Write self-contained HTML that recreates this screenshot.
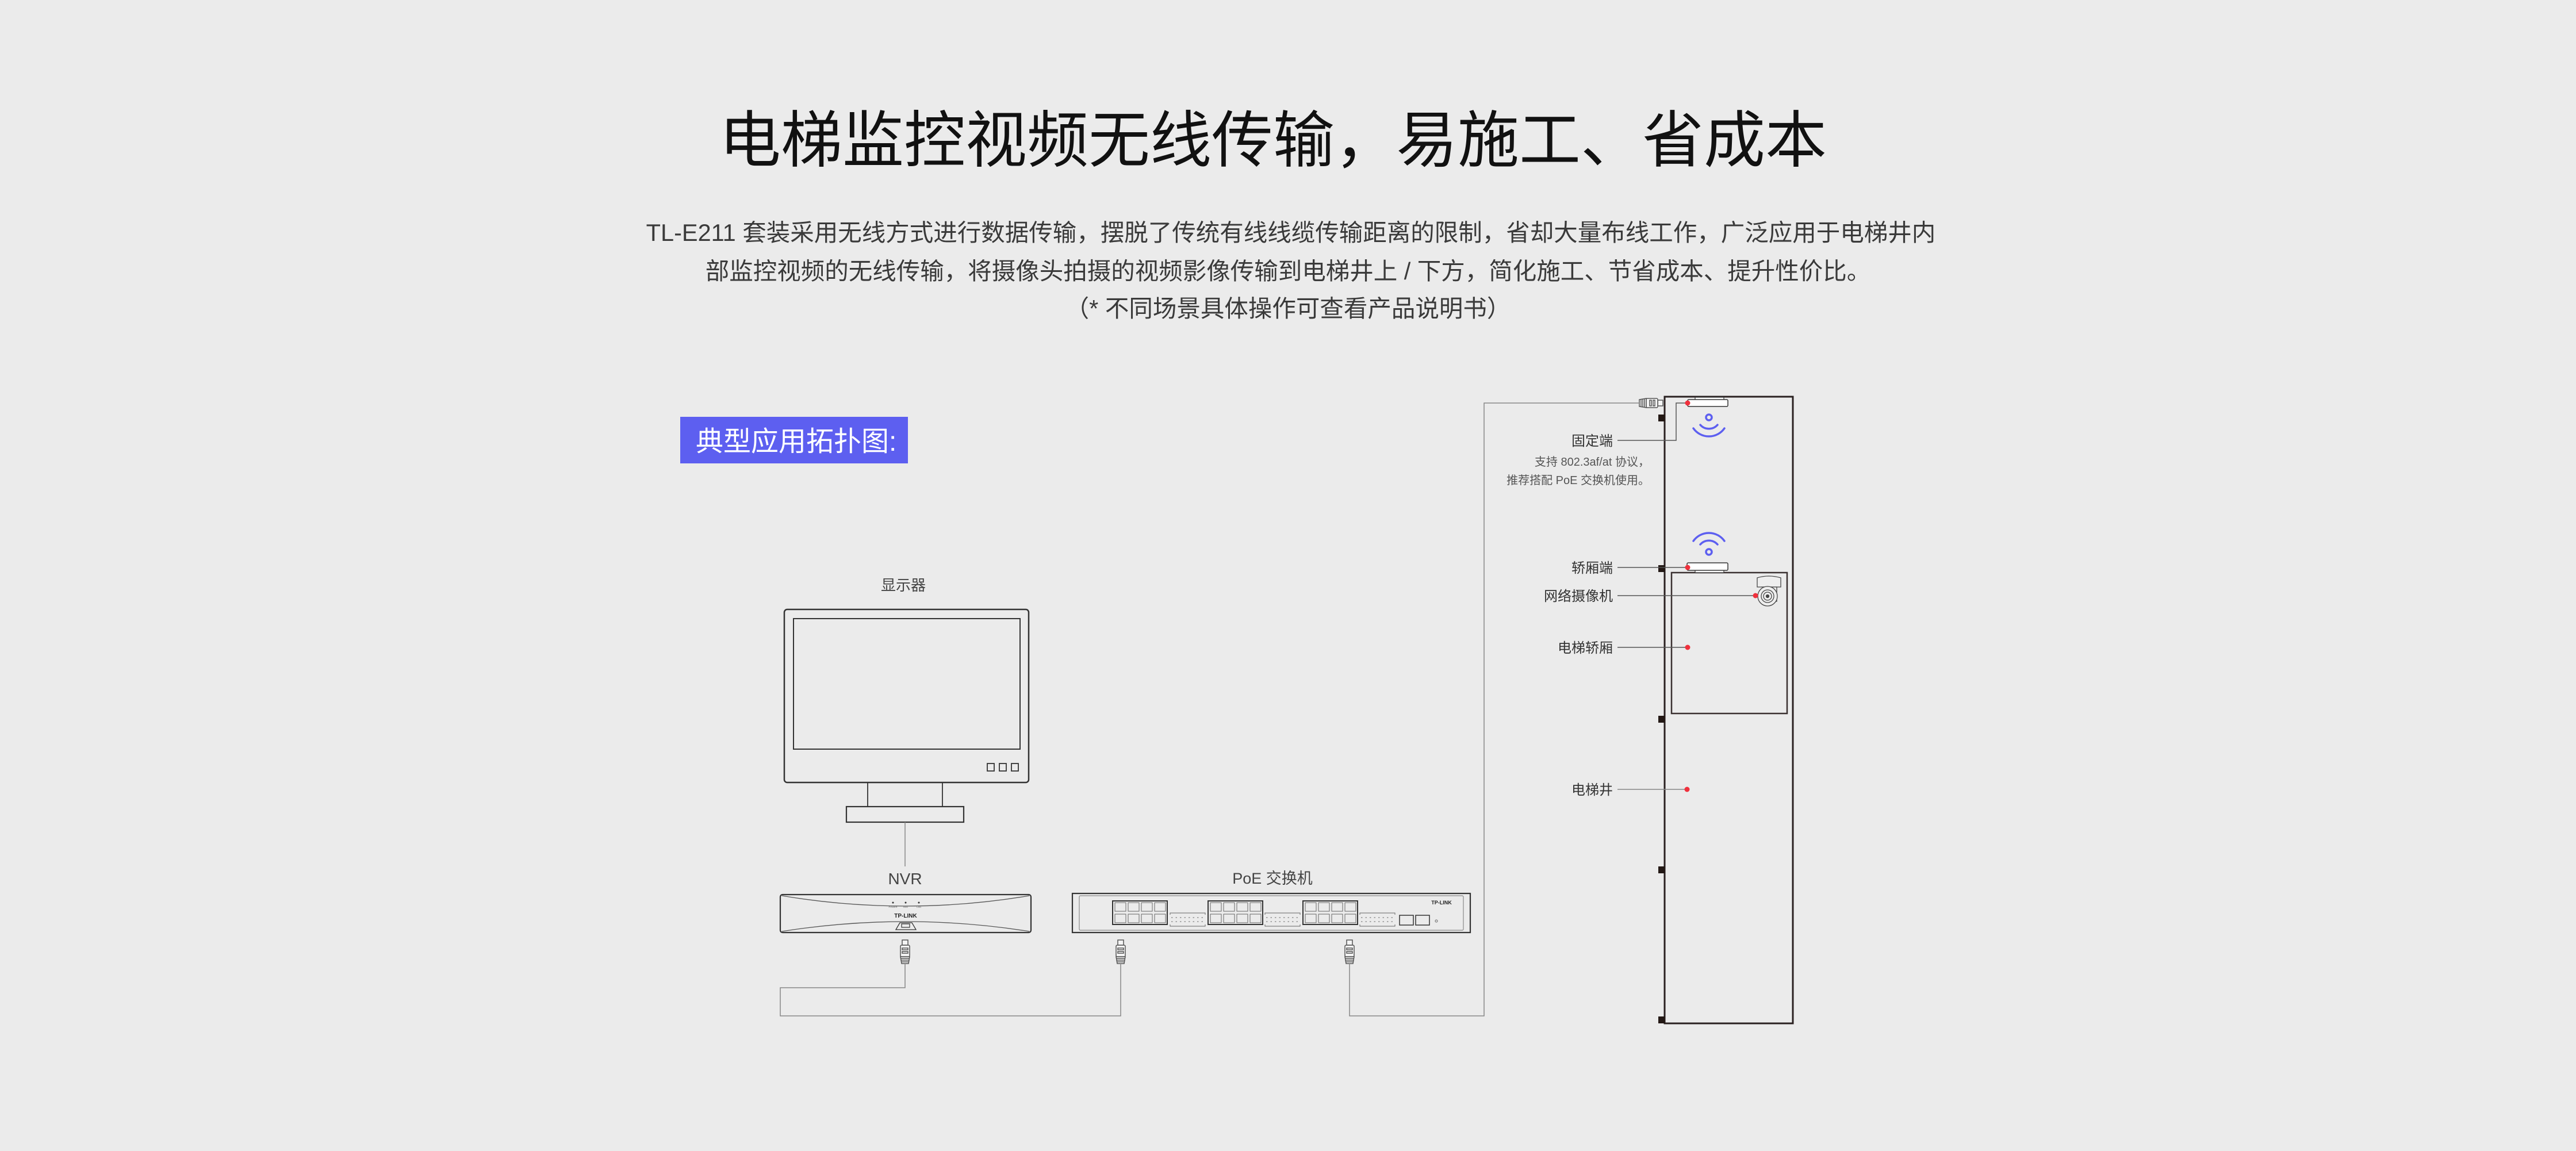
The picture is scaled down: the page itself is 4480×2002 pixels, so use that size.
<!DOCTYPE html>
<html><head><meta charset="utf-8"><style>
html,body{margin:0;padding:0;background:#ebebeb;}
svg{display:block;}
text{font-family:"Liberation Sans","Noto Sans CJK SC",sans-serif;}
</style></head><body>
<svg width="4480" height="2002" viewBox="0 0 4480 2002" xmlns="http://www.w3.org/2000/svg">
<defs>
<g id="plug" fill="#f4f4f4" stroke="#555" stroke-width="1.5">
<rect x="-5" y="0" width="10" height="9"/>
<rect x="-8" y="9" width="16" height="20" rx="2"/>
<rect x="-5" y="14" width="10" height="3" fill="none"/>
<rect x="-5" y="20" width="10" height="3" fill="none"/>
<path d="M-8 29 L-6 41 L6 41 L8 29 Z"/>
<path d="M-7.5 32 H7.5 M-7 35 H7 M-6.5 38 H6.5" fill="none"/>
</g>
<g id="ports">
<rect x="0" y="0" width="95" height="41" fill="none" stroke="#333" stroke-width="2"/>
<g fill="none" stroke="#666" stroke-width="1">
<rect x="4" y="3" width="19" height="15"/><rect x="27" y="3" width="19" height="15"/><rect x="50" y="3" width="19" height="15"/><rect x="73" y="3" width="19" height="15"/>
<rect x="4" y="23" width="19" height="15"/><rect x="27" y="23" width="19" height="15"/><rect x="50" y="23" width="19" height="15"/><rect x="73" y="23" width="19" height="15"/>
</g>
</g>
<g id="dots" fill="none" stroke="#666" stroke-width="1">
<path d="M0 3 V0 H61 V3 M0 20 V23 H61 V20"/>
<g stroke-dasharray="2.5 5"><line x1="2" y1="8" x2="61" y2="8"/><line x1="2" y1="15" x2="61" y2="15"/></g>
</g>
</defs>

<!-- Title -->
<text x="2214" y="281" font-size="107" fill="#111" text-anchor="middle">电梯监控视频无线传输，易施工、省成本</text>
<g font-size="41.5" fill="#3a3a3a" text-anchor="middle">
<text x="2245" y="419">TL-E211 套装采用无线方式进行数据传输，摆脱了传统有线线缆传输距离的限制，省却大量布线工作，广泛应用于电梯井内</text>
<text x="2240" y="486">部监控视频的无线传输，将摄像头拍摄的视频影像传输到电梯井上 / 下方，简化施工、节省成本、提升性价比。</text>
<text x="2240" y="551">（* 不同场景具体操作可查看产品说明书）</text>
</g>

<!-- Badge -->
<rect x="1183" y="725" width="396" height="81" fill="#5d5ff0"/>
<text x="1210" y="784" font-size="48" fill="#fff">典型应用拓扑图:</text>

<!-- Monitor -->
<text x="1571" y="1027" font-size="26" fill="#444" text-anchor="middle">显示器</text>
<rect x="1364" y="1060" width="425" height="301" rx="5" fill="none" stroke="#333" stroke-width="2.5"/>
<rect x="1380" y="1076" width="394" height="227" fill="none" stroke="#333" stroke-width="2"/>
<g fill="none" stroke="#333" stroke-width="1.8">
<rect x="1717" y="1328" width="12" height="13"/><rect x="1738" y="1328" width="12" height="13"/><rect x="1759" y="1328" width="12" height="13"/>
<line x1="1509" y1="1361" x2="1509" y2="1403"/><line x1="1639" y1="1361" x2="1639" y2="1403"/>
<rect x="1472" y="1403" width="204" height="27" stroke-width="2.2"/>
</g>
<line x1="1574" y1="1430" x2="1574" y2="1507" stroke="#888" stroke-width="1.5"/>

<!-- NVR -->
<text x="1574" y="1538" font-size="28" fill="#444" text-anchor="middle">NVR</text>
<rect x="1357" y="1556" width="436" height="66" rx="4" fill="none" stroke="#333" stroke-width="2.2"/>
<path d="M1360 1558 Q1575 1594 1790 1558 M1360 1620 Q1575 1586 1790 1620" fill="none" stroke="#555" stroke-width="1.3"/>
<g fill="#333"><circle cx="1553" cy="1570" r="1.5"/><circle cx="1575" cy="1570" r="1.5"/><circle cx="1598" cy="1570" r="1.5"/></g>
<g font-size="4" fill="#666" text-anchor="middle"><text x="1553" y="1579">POWER</text><text x="1575" y="1579">HDD</text><text x="1598" y="1579">LAN</text></g>
<text x="1575" y="1596" font-size="10" font-weight="bold" fill="#222" text-anchor="middle">TP-LINK</text>
<path d="M1558 1617 L1565 1605 L1586 1605 L1593 1617 Z" fill="none" stroke="#333" stroke-width="1.3"/>
<rect x="1568" y="1607" width="14" height="6" fill="none" stroke="#333" stroke-width="1.2"/>

<!-- Switch -->
<text x="2213" y="1537" font-size="27" fill="#444" text-anchor="middle">PoE 交换机</text>
<rect x="1865" y="1554" width="692" height="68" fill="none" stroke="#333" stroke-width="2.2"/>
<rect x="1877" y="1558" width="668" height="60" rx="2" fill="none" stroke="#888" stroke-width="1.2"/>
<use href="#ports" x="1935" y="1567"/><use href="#ports" x="2101" y="1567"/><use href="#ports" x="2266" y="1567"/>
<use href="#dots" x="2035" y="1588"/><use href="#dots" x="2200" y="1588"/><use href="#dots" x="2365" y="1588"/>
<rect x="2434" y="1592" width="24" height="17" fill="none" stroke="#333" stroke-width="1.5"/>
<rect x="2462" y="1592" width="24" height="17" fill="none" stroke="#333" stroke-width="1.5"/>
<circle cx="2498" cy="1602" r="2" fill="none" stroke="#666"/>
<text x="2507" y="1573" font-size="9" font-weight="bold" fill="#222" text-anchor="middle">TP-LINK</text>

<!-- Plugs -->
<use href="#plug" transform="translate(1574,1635)"/>
<use href="#plug" transform="translate(1949,1635)"/>
<use href="#plug" transform="translate(2347,1635)"/>
<use href="#plug" transform="translate(2892,701) rotate(90)"/>

<!-- Cables -->
<g fill="none" stroke="#888" stroke-width="1.5">
<path d="M1574 1676 V1718 H1357 V1767 H1949 V1676"/>
<path d="M2347 1676 V1767 H2581 V701 H2851"/>
</g>

<!-- Shaft -->
<rect x="2895" y="690" width="223" height="1090" fill="none" stroke="#2a2020" stroke-width="3"/>
<g fill="#231815">
<rect x="2884" y="721" width="12" height="12"/><rect x="2884" y="983" width="12" height="12"/>
<rect x="2884" y="1245" width="12" height="12"/><rect x="2884" y="1507" width="12" height="12"/>
<rect x="2884" y="1768" width="12" height="12"/>
</g>
<rect x="2907" y="996" width="201" height="245" fill="none" stroke="#3a3030" stroke-width="2.5"/>

<!-- Fixed terminal -->
<rect x="2948" y="691" width="50" height="5" fill="#fff" stroke="#333" stroke-width="1.2"/>
<rect x="2935" y="695" width="70" height="12" rx="2" fill="#fff" stroke="#333" stroke-width="1.5"/>
<!-- Car terminal -->
<rect x="2948" y="991" width="50" height="5" fill="#fff" stroke="#333" stroke-width="1.2"/>
<rect x="2934" y="979" width="71" height="13" rx="2" fill="#fff" stroke="#333" stroke-width="1.5"/>

<!-- Wifi icons -->
<g fill="none" stroke="#5d5ff0" stroke-width="3.5" stroke-linecap="round">
<circle cx="2972" cy="726" r="5"/>
<path d="M2957 739 A20 20 0 0 0 2987 739"/>
<path d="M2945 745 A33 33 0 0 0 2999 745"/>
<circle cx="2972" cy="960" r="5"/>
<path d="M2957 947 A20 20 0 0 1 2987 947"/>
<path d="M2945 941 A33 33 0 0 1 2999 941"/>
</g>

<!-- Camera -->
<g fill="#eee" stroke="#444" stroke-width="1.3">
<path d="M3056 1005 Q3076 999 3097 1005 V1021 H3056 Z"/>
<path d="M3063 1021 H3090 V1046 H3068"/>
<circle cx="3074" cy="1037" r="17"/>
<circle cx="3074" cy="1037" r="11" fill="none"/>
<circle cx="3074" cy="1037" r="7" fill="none"/>
<circle cx="3074" cy="1037" r="2.5" fill="#444"/>
</g>

<!-- Leaders -->
<g fill="none" stroke="#555" stroke-width="1.5">
<path d="M2813 766 H2915 V701 H2935"/>
<path d="M2813 987 H2935"/>
<path d="M2813 1036 H3053"/>
<path d="M2813 1126 H2935"/>
<path d="M2813 1373 H2934" stroke="#888"/>
</g>
<g fill="#f0303c">
<circle cx="2935" cy="701" r="4.5"/><circle cx="2935" cy="987" r="4.5"/>
<circle cx="3053" cy="1036" r="4.5"/><circle cx="2935" cy="1126" r="4.5"/>
<circle cx="2934" cy="1373" r="4.5"/>
</g>

<!-- Right labels -->
<g font-size="24" fill="#333" text-anchor="end">
<text x="2805" y="775">固定端</text>
<text x="2805" y="996">轿厢端</text>
<text x="2805" y="1045">网络摄像机</text>
<text x="2805" y="1135">电梯轿厢</text>
<text x="2805" y="1382">电梯井</text>
</g>
<g font-size="20" fill="#555" text-anchor="end">
<text x="2869" y="810">支持 802.3af/at 协议，</text>
<text x="2869" y="842">推荐搭配 PoE 交换机使用。</text>
</g>
</svg>
</body></html>
